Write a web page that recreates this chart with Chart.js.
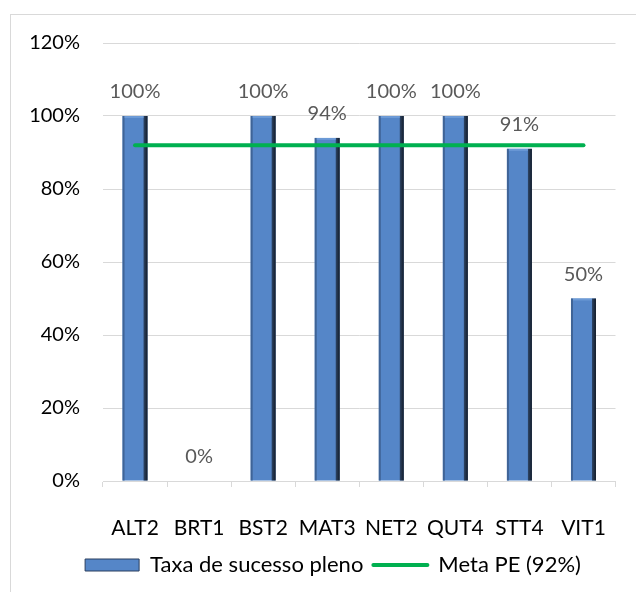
<!DOCTYPE html>
<html><head><meta charset="utf-8">
<script src="https://cdn.jsdelivr.net/npm/chart.js@4"></script>
<style>html,body{margin:0;padding:0;background:#fff;overflow:hidden}#wrap{position:relative;width:636px;height:592px}</style>
</head><body><div id="wrap"><canvas id="c" width="636" height="592"></canvas></div>
<script>
const categories = ['ALT2','BRT1','BST2','MAT3','NET2','QUT4','STT4','VIT1'];
const successRate = [100, 0, 100, 94, 100, 100, 91, 50];
const goalRate = [92, 92, 92, 92, 92, 92, 92, 92];
const seriesNames = ['Taxa de sucesso pleno', 'Meta PE (92%)'];
const yMin = 0, yMax = 120, yStep = 20;

const FONT = 'Lato, "Liberation Sans", sans-serif';
const BAR = '#5586C8';

const framePlugin = {
  id: 'frame',
  beforeDraw(chart) {
    const ctx = chart.ctx;
    ctx.save();
    ctx.fillStyle = '#fff';
    ctx.fillRect(0, 0, chart.width, chart.height);
    ctx.strokeStyle = '#D9D9D9';
    ctx.lineWidth = 1;
    ctx.strokeRect(10.5, 14.5, 1000, 1000);
    ctx.restore();
  }
};

const bevelPlugin = {
  id: 'bevel',
  afterDatasetDraw(chart, args) {
    if (args.index !== 0) return;
    const ctx = chart.ctx;
    ctx.save();
    args.meta.data.forEach(el => {
      const p = el.getProps(['x', 'y', 'base', 'width'], true);
      const h = p.base - p.y;
      if (h < 1) return;
      const l = p.x - p.width / 2, r = p.x + p.width / 2;
      ctx.fillStyle = '#3F6497';
      ctx.fillRect(l, p.y, 2, h);
      const g = ctx.createLinearGradient(r - 4, 0, r, 0);
      g.addColorStop(0, '#2E4668');
      g.addColorStop(1, '#131B27');
      ctx.fillStyle = g;
      ctx.fillRect(r - 4, p.y, 4, h);
      ctx.fillStyle = '#6C9AD6';
      ctx.fillRect(l + 2, p.y, p.width - 6, 2);
    });
    ctx.restore();
  }
};

const valueLabelPlugin = {
  id: 'valueLabels',
  afterDatasetsDraw(chart) {
    const meta = chart.getDatasetMeta(0);
    const ctx = chart.ctx;
    ctx.save();
    ctx.font = '20px ' + FONT;
    ctx.fillStyle = '#595959';
    ctx.textAlign = 'center';
    ctx.textBaseline = 'middle';
    meta.data.forEach((el, i) => {
      const p = el.getProps(['x', 'y'], true);
      ctx.fillText(successRate[i] + '%', p.x, p.y - 24);
    });
    ctx.restore();
  }
};

new Chart(document.getElementById('c'), {
  data: {
    labels: categories,
    datasets: [
      {
        type: 'bar',
        label: seriesNames[0],
        data: successRate,
        backgroundColor: BAR,
        borderWidth: 0,
        barPercentage: 0.39,
        categoryPercentage: 1,
        order: 1
      },
      {
        type: 'line',
        label: seriesNames[1],
        data: goalRate,
        borderColor: '#00B050',
        backgroundColor: '#00B050',
        borderWidth: 4,
        borderCapStyle: 'round',
        pointRadius: 0,
        pointHoverRadius: 0,
        tension: 0,
        order: 0
      }
    ]
  },
  options: {
    responsive: false,
    animation: false,
    events: [],
    layout: { padding: { left: 30, right: 0, top: 43, bottom: 6 } },
    scales: {
      x: {
        grid: { display: true, drawOnChartArea: false, drawTicks: true, tickLength: 6, color: '#D9D9D9', offset: true },
        border: { display: true, color: '#D9D9D9' },
        ticks: { font: { family: FONT, size: 21 }, color: '#000', padding: 29, maxRotation: 0, autoSkip: false },
        afterFit(s) { s.height = 63; }
      },
      y: {
        min: yMin, max: yMax,
        ticks: { stepSize: yStep, callback: v => v + '%', font: { family: FONT, size: 20 }, color: '#000', padding: 23 },
        grid: { color: '#D9D9D9', drawTicks: false },
        border: { display: false },
        afterFit(s) { s.width = 73; }
      },
      yRight: {
        position: 'right',
        display: true,
        grid: { display: false, drawTicks: false },
        border: { display: false },
        ticks: { display: false },
        afterFit(s) { s.width = 19; }
      }
    },
    plugins: {
      tooltip: { enabled: false },
      legend: {
        position: 'bottom',
        labels: {
          sort: (a, b) => a.datasetIndex - b.datasetIndex,
          usePointStyle: true,
          pointStyleWidth: 54,
          boxWidth: 54,
          boxHeight: 12,
          padding: 10,
          color: '#000',
          font: { family: FONT, size: 22 },
          generateLabels(chart) {
            const items = Chart.defaults.plugins.legend.labels.generateLabels(chart);
            items.forEach(it => {
              if (it.datasetIndex === 0) {
                it.pointStyle = 'rect'; it.fillStyle = BAR; it.strokeStyle = '#2A3F5E'; it.lineWidth = 1;
              } else {
                it.pointStyle = 'line'; it.strokeStyle = '#00B050'; it.lineWidth = 4; it.lineCap = 'round';
              }
            });
            return items;
          }
        }
      }
    }
  },
  plugins: [framePlugin, bevelPlugin, valueLabelPlugin]
});
</script>
</body></html>
